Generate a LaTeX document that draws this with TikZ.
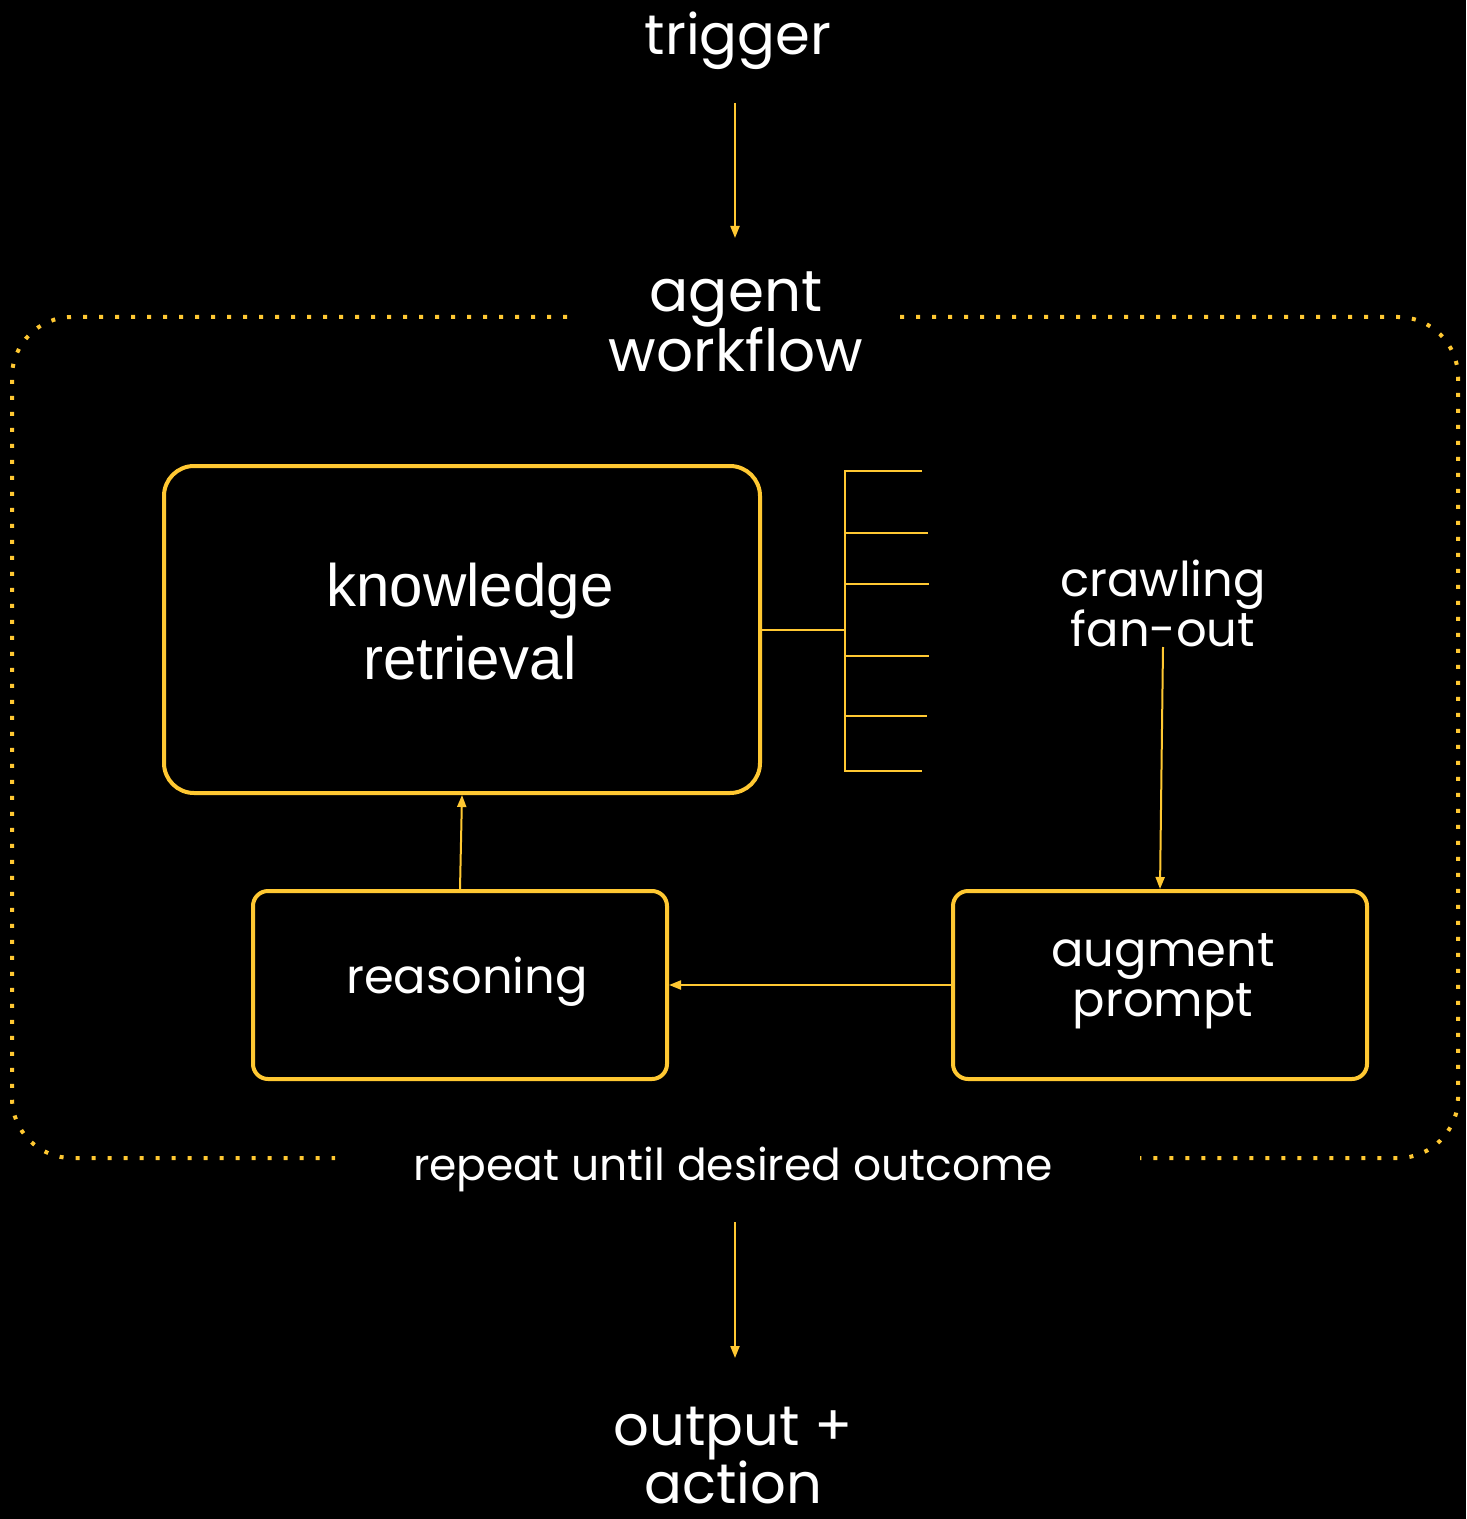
\documentclass[tikz,border=0pt]{standalone}
\usepackage{fontspec}
\setmainfont{Poppins}
\newfontfamily\arialike{Liberation Sans}
\usetikzlibrary{arrows.meta}
\definecolor{gold}{RGB}{255,200,50}
\begin{document}
\begin{tikzpicture}[x=0.5pt,y=-0.5pt,
  label/.style={text=white,inner sep=0pt,align=center},
  bigbox/.style={draw=gold,line width=2pt,rounded corners=15pt,minimum width=298pt,minimum height=163.5pt,inner sep=0pt},
  stagebox/.style={draw=gold,line width=2pt,rounded corners=7.5pt,minimum width=207pt,minimum height=94pt,inner sep=0pt},
  link/.style={draw=gold,line width=1pt},
  arr/.style={link,-{Triangle[length=6pt,width=4.5pt]}},
  loopline/.style={draw=gold,line width=2pt,dash pattern=on 2pt off 6pt,rounded corners=30pt}]
  % canvas
  \fill[black] (0,0) rectangle (1466,1519);
  \useasboundingbox (0,0) rectangle (1466,1519);

  % outer loop boundary, left and right halves around the labels
  \draw[loopline] (567,317) -- (12,317) -- (12,1158) -- (335,1158);
  \draw[loopline] (900,317) -- (1458,317) -- (1458,1158) -- (1140,1158);

  % texts outside boxes
  \node[label,font=\fontsize{28}{30}\selectfont,anchor=base] (trigger) at (738,55) {trigger};
  \node[label,font=\fontsize{29}{30}\selectfont] (agent) at (736,322) {agent\\workflow};
  \node[label,font=\fontsize{24}{25}\selectfont] (crawl) at (1163,603) {crawling\\fan-out};
  \node[label,font=\fontsize{22}{24}\selectfont,anchor=base] (repeat) at (733,1180) {repeat until desired outcome};
  \node[label,font=\fontsize{28}{29}\selectfont] (output) at (733,1456) {output +\\action};

  % boxes
  \node[bigbox] (knowledge) at (462,629.5) {};
  \node[label,font=\arialike\fontsize{30}{36.5}\selectfont] (knowledgetext) at (470,622) {knowledge\\retrieval};
  \node[stagebox] (reasoning) at (460,985) {};
  \node[label,font=\fontsize{24}{25}\selectfont,anchor=base] (reasoningtext) at (467,993) {reasoning};
  \node[stagebox] (augment) at (1160,985) {};
  \node[label,font=\fontsize{24}{25}\selectfont] (augmenttext) at (1163,981) {augment\\prompt};

  % fan-out comb
  \coordinate (fan) at (845,629.5);
  \coordinate (fantop) at (845,471);
  \coordinate (fanbot) at (845,771);
  \draw[link] (knowledge.east) -- (fan);
  \draw[link] (922,471) -- (fantop) -- (fanbot) -- (922,771);
  \foreach \y/\x in {533/928,584/929,656/929,716/927}
    \draw[link] (845,\y) -- (\x,\y);

  % connectors
  \coordinate (trigA) at (735,103);
  \coordinate (trigB) at (735,238);
  \coordinate (outA) at (735,1222);
  \coordinate (outB) at (735,1358);
  \coordinate (crawlA) at (1163,647);
  \draw[arr] (trigA) -- (trigB);
  \draw[arr] (outA) -- (outB);
  \draw[arr] (crawlA) -- (augment.north);
  \draw[arr] (augment.west) -- (reasoning.east);
  \draw[arr] (reasoning.north) -- (knowledge.south);
\end{tikzpicture}
\end{document}
